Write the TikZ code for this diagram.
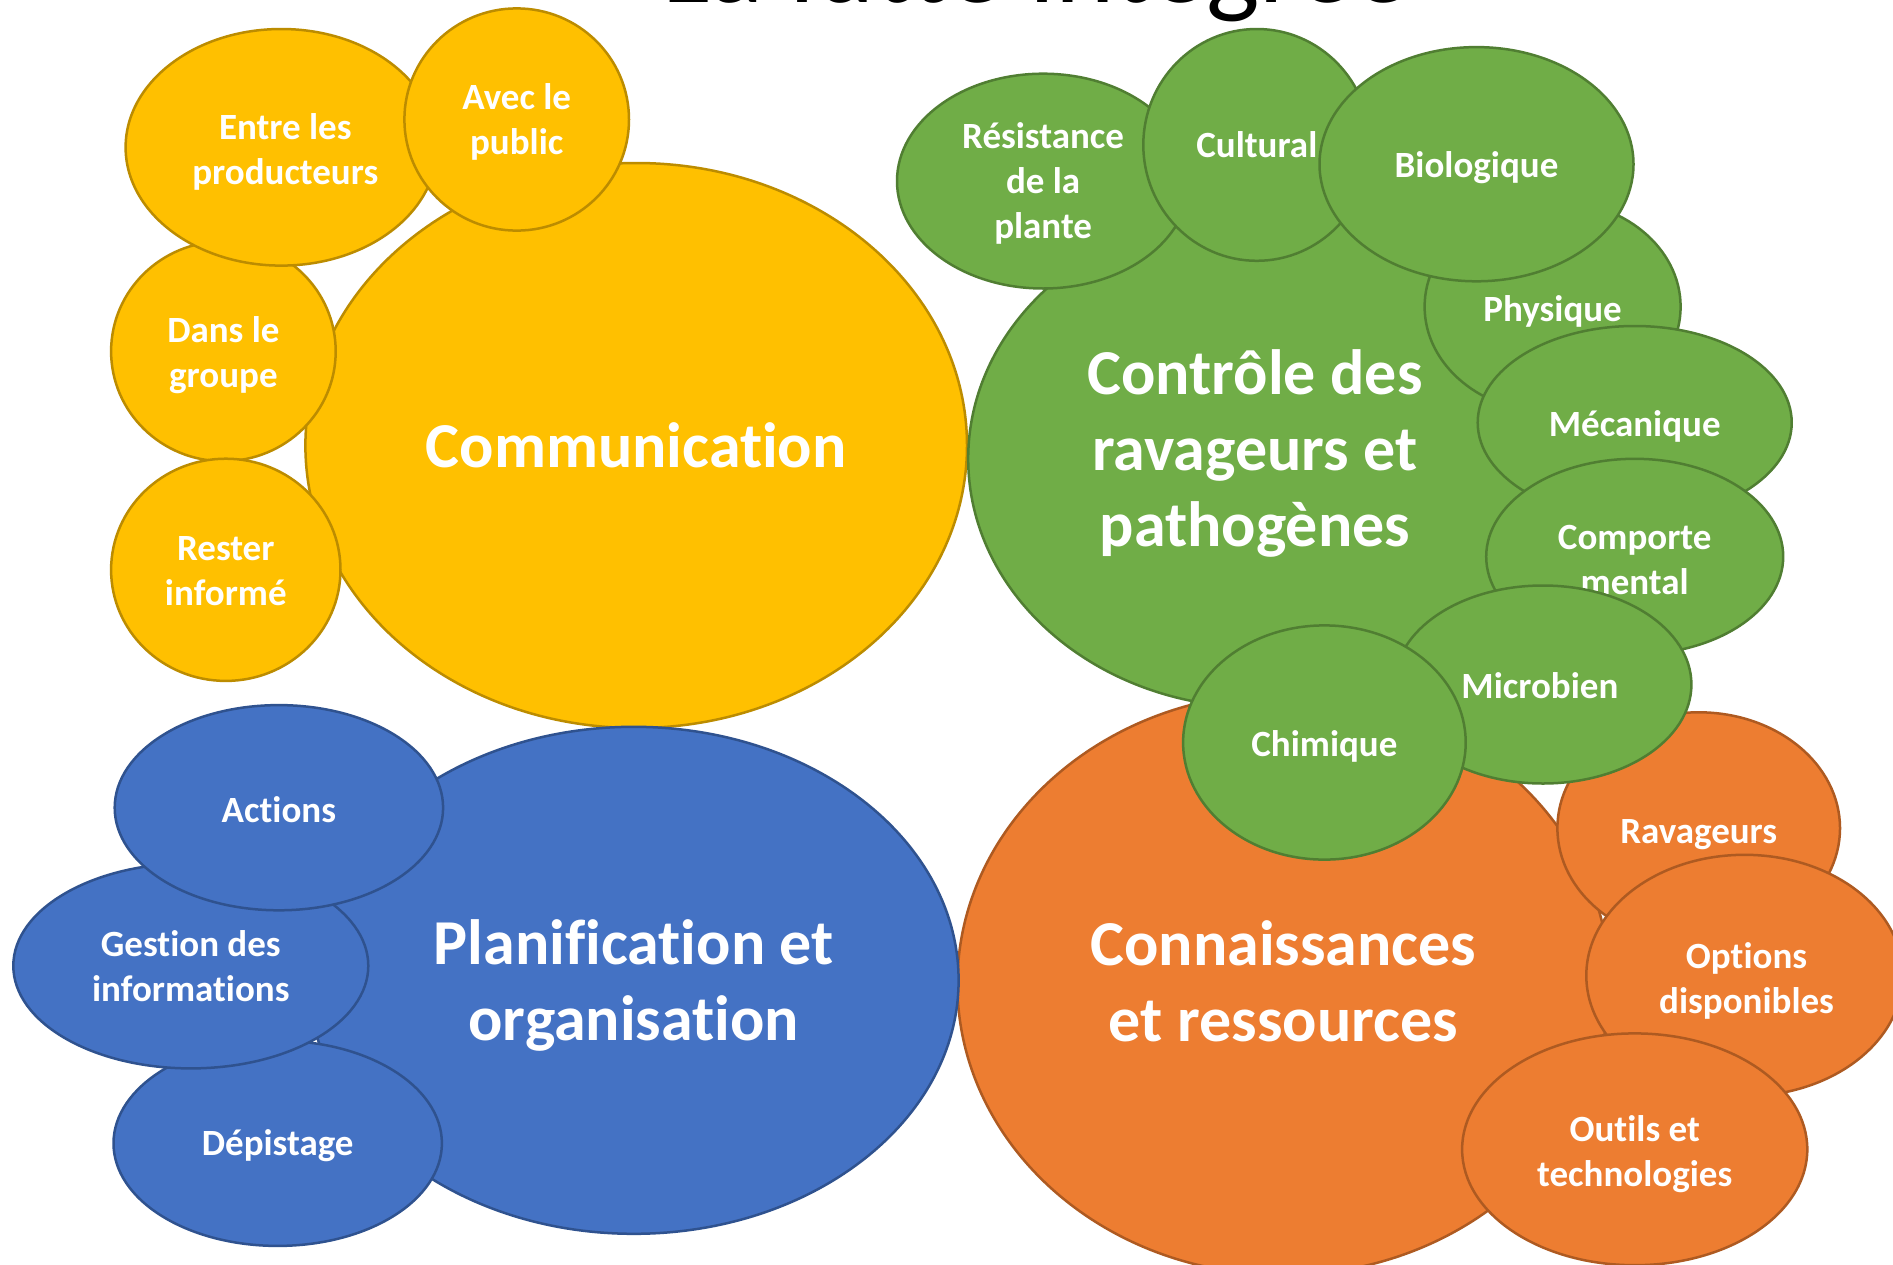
\documentclass[tikz,border=0pt]{standalone}
\usepackage{fontspec}
\setmainfont{Carlito}[Ligatures=NoCommon]
\usetikzlibrary{shapes.geometric}

\definecolor{yelfill}{HTML}{FFC000}
\definecolor{yelline}{HTML}{BC8C00}
\definecolor{grnfill}{HTML}{70AD47}
\definecolor{grnline}{HTML}{507E32}
\definecolor{orgfill}{HTML}{ED7D31}
\definecolor{orgline}{HTML}{AE5A21}
\definecolor{blufill}{HTML}{4472C4}
\definecolor{bluline}{HTML}{2F528F}

\tikzset{
  bubble/.style={ellipse, inner sep=0pt, line width=2.5pt},
  small/.style={inner sep=0pt, text=white, align=center,
    font=\bfseries\fontsize{37}{45}\selectfont},
  big/.style={inner sep=0pt, text=white, align=center,
    font=\bfseries\fontsize{64}{76}\selectfont},
  yel/.style={bubble, fill=yelfill, draw=yelline},
  grn/.style={bubble, fill=grnfill, draw=grnline},
  org/.style={bubble, fill=orgfill, draw=orgline},
  blu/.style={bubble, fill=blufill, draw=bluline},
  sz/.style n args={2}{minimum width=#1, minimum height=#2}
}

\begin{document}
\begin{tikzpicture}[x=1pt, y=-1pt]
\useasboundingbox[fill=white] (0,0) rectangle (1893,1264);

% title, mostly above the top edge
\node[anchor=base, inner sep=0pt, font=\fontsize{113}{136}\selectfont] (title)
  at (1036,2) {La lutte intégrée};

% communication
\node[yel, sz={661.6pt}{565pt}] (comm) at (636.2,445.5) {};
\node[big] (comm-t) at ([yshift=0pt]comm.center) {Communication};
\node[yel, sz={224.6pt}{219.8pt}] (dans) at (223.4,351.3) {};
\node[small] (dans-t) at ([yshift=-3.5pt]dans.center) {Dans le\\groupe};
\node[yel, sz={229.4pt}{222.2pt}] (rester) at (225.8,569.8) {};
\node[small] (rester-t) at ([yshift=-1.5pt]rester.center) {Rester\\informé};
\node[yel, sz={311.4pt}{236.6pt}] (entre) at (281.3,147.3) {};
\node[small] (entre-t) at ([xshift=4pt, yshift=-4.5pt]entre.center) {Entre les\\producteurs};
\node[yel, sz={224.6pt}{222.2pt}] (avec) at (516.7,119.5) {};
\node[small] (avec-t) at ([yshift=-2.5pt]avec.center) {Avec le\\public};

% knowledge and resources
\node[org, sz={652pt}{582pt}] (conn) at (1283.4,984) {};
\node[big] (conn-t) at ([yshift=2.5pt]conn.center) {Connaissances\\et ressources};
\node[org, sz={282.6pt}{231.8pt}] (rav) at (1698.7,828.2) {};
\node[small] (rav-t) at ([yshift=-6pt]rav.center) {Ravageurs};
\node[org, sz={316.4pt}{241.4pt}] (opt) at (1744.5,975.5) {};
\node[small] (opt-t) at ([xshift=2pt, yshift=-5.5pt]opt.center) {Options\\disponibles};
\node[org, sz={345.2pt}{231.8pt}] (outils) at (1634.7,1149.3) {};
\node[small] (outils-t) at ([yshift=-5pt]outils.center) {Outils et\\technologies};

% pest and pathogen control
\node[grn, sz={579.6pt}{497.4pt}] (ctrl) at (1258,458.8) {};
\node[big] (ctrl-t) at ([xshift=-3pt, yshift=5pt]ctrl.center) {Contrôle des\\ravageurs et\\pathogènes};
\node[grn, sz={292.2pt}{214.8pt}] (resist) at (1043.1,181.1) {};
\node[small] (resist-t) at ([yshift=-2.5pt]resist.center) {Résistance\\de la\\plante};
\node[grn, sz={227pt}{231.8pt}] (cult) at (1256.8,144.9) {};
\node[small] (cult-t) at (cult.center) {Cultural};
\node[grn, sz={256pt}{212.4pt}] (phys) at (1552.6,306.7) {};
\node[small] (phys-t) at ([yshift=-4.5pt]phys.center) {Physique};
\node[grn, sz={314pt}{234.2pt}] (bio) at (1476.5,164.2) {};
\node[small] (bio-t) at ([yshift=-3.5pt]bio.center) {Biologique};
\node[grn, sz={314pt}{193.2pt}] (meca) at (1634.7,422.6) {};
\node[small] (meca-t) at ([yshift=-3.5pt]meca.center) {Mécanique};
\node[grn, sz={297pt}{195.6pt}] (comp) at (1634.7,556.6) {};
\node[small] (comp-t) at ([yshift=-3.5pt]comp.center) {Comporte\\mental};
\node[grn, sz={297pt}{198pt}] (micro) at (1542.9,684.5) {};
\node[small] (micro-t) at ([xshift=-3pt, yshift=-1.5pt]micro.center) {Microbien};
\node[grn, sz={282.6pt}{234.2pt}] (chim) at (1324.4,742.5) {};
\node[small] (chim-t) at ([yshift=-3.5pt]chim.center) {Chimique};

% planning and organisation
\node[blu, sz={649.6pt}{507pt}] (plan) at (633.8,980.3) {};
\node[big] (plan-t) at ([yshift=-5pt]plan.center) {Planification et\\organisation};
\node[blu, sz={328.4pt}{205.2pt}] (dep) at (277.7,1143.3) {};
\node[small] (dep-t) at ([yshift=-2.5pt]dep.center) {Dépistage};
\node[blu, sz={355pt}{205.2pt}] (gest) at (190.8,965.8) {};
\node[small] (gest-t) at (gest.center) {Gestion des\\informations};
\node[blu, sz={328.4pt}{205.2pt}] (act) at (278.9,807.7) {};
\node[small] (act-t) at ([yshift=-1.5pt]act.center) {Actions};
\end{tikzpicture}
\end{document}
